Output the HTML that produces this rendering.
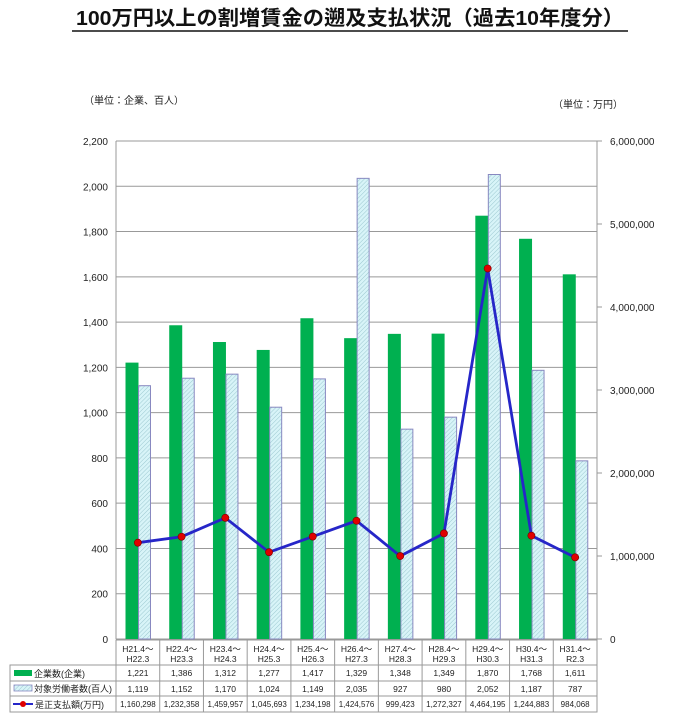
<!DOCTYPE html>
<html><head><meta charset="utf-8"><style>
body{margin:0;background:#fff;width:680px;height:716px;overflow:hidden;font-family:"Liberation Sans","Noto Sans CJK JP",sans-serif}
</style></head><body>
<svg id="s" width="680" height="716" xmlns="http://www.w3.org/2000/svg" font-family="Liberation Sans, Noto Sans CJK JP, sans-serif">
<defs><pattern id="h" width="3" height="3" patternUnits="userSpaceOnUse" patternTransform="rotate(45)"><rect width="3" height="3" fill="#d8f4f8"/><line x1="0" y1="0" x2="0" y2="3" stroke="#9cc8d0" stroke-width="1"/></pattern></defs>
<text x="350" y="25" text-anchor="middle" font-size="20.5" font-weight="bold" fill="#111" textLength="548" lengthAdjust="spacingAndGlyphs">100万円以上の割増賃金の遡及支払状況（過去10年度分）</text>
<line x1="72" y1="31" x2="628" y2="31" stroke="#111" stroke-width="1.5"/>
<text x="84" y="104" font-size="10" fill="#222">（単位：企業、百人）</text>
<text x="553" y="108" font-size="10" fill="#222">（単位：万円）</text>
<g id="g"></g>
</svg>
<script>
var g=document.getElementById('g'),o='';
var L=116,R=597,T=141,B=639,W=(R-L)/11;
var a=[1221,1386,1312,1277,1417,1329,1348,1349,1870,1768,1611];
var b=[1119,1152,1170,1024,1149,2035,927,980,2052,1187,787];
var c=[1160298,1232358,1459957,1045693,1234198,1424576,999423,1272327,4464195,1244883,984068];
var h1=["H21.4～","H22.4～","H23.4～","H24.4～","H25.4～","H26.4～","H27.4～","H28.4～","H29.4～","H30.4～","H31.4～"];
var h2=["H22.3","H23.3","H24.3","H25.3","H26.3","H27.3","H28.3","H29.3","H30.3","H31.3","R2.3"];
function f(n){return n.toLocaleString('en-US');}
for(var i=0;i<=11;i++){var y=B-(B-T)*i/11;o+='<line x1="'+L+'" y1="'+y+'" x2="'+R+'" y2="'+y+'" stroke="#999" stroke-width="1"/>';o+='<text x="108" y="'+(y+4)+'" text-anchor="end" font-size="10" fill="#222">'+f(i*200)+'</text>';}
for(var i=0;i<=6;i++){var y=B-(B-T)*i/6;o+='<line x1="'+R+'" y1="'+y+'" x2="'+(R+5)+'" y2="'+y+'" stroke="#999"/>';o+='<text x="610" y="'+(y+4)+'" font-size="10" fill="#222">'+f(i*1000000)+'</text>';}
o+='<line x1="'+L+'" y1="'+T+'" x2="'+L+'" y2="'+B+'" stroke="#999"/><line x1="'+R+'" y1="'+T+'" x2="'+R+'" y2="'+B+'" stroke="#999"/>';
var pts=[];
for(var i=0;i<11;i++){var x=L+i*W;var ya=B-a[i]/2200*(B-T),yb=B-b[i]/2200*(B-T);
o+='<rect x="'+(x+9.5)+'" y="'+ya+'" width="13" height="'+(B-ya)+'" fill="#00b050"/>';
o+='<rect x="'+(x+22.5)+'" y="'+yb+'" width="12" height="'+(B-yb)+'" fill="url(#h)" stroke="#8888c0" stroke-width="1"/>';
pts.push([x+W/2,B-c[i]/6000000*(B-T)]);}
o+='<polyline points="'+pts.map(function(p){return p.join(',')}).join(' ')+'" fill="none" stroke="#2626c8" stroke-width="2.8"/>';
pts.forEach(function(p){o+='<circle cx="'+p[0]+'" cy="'+p[1]+'" r="3.6" fill="#e00000" stroke="#700" stroke-width="0.6"/>';});
o+='<rect x="'+L+'" y="640" width="'+(R-L)+'" height="25" fill="none" stroke="#999"/>';
o+='<rect x="10" y="665" width="'+(R-10)+'" height="47" fill="none" stroke="#999"/>';
o+='<line x1="10" y1="681" x2="'+R+'" y2="681" stroke="#999"/><line x1="10" y1="696" x2="'+R+'" y2="696" stroke="#999"/>';
for(var i=0;i<=11;i++){var x=L+i*W;o+='<line x1="'+x+'" y1="640" x2="'+x+'" y2="712" stroke="#999"/>';}
for(var i=0;i<11;i++){var cx=L+i*W+W/2;
o+='<text x="'+cx+'" y="652" text-anchor="middle" font-size="8.5" fill="#222">'+h1[i]+'</text>';
o+='<text x="'+cx+'" y="662" text-anchor="middle" font-size="8.5" fill="#222">'+h2[i]+'</text>';
o+='<text x="'+cx+'" y="676" text-anchor="middle" font-size="8.5" fill="#222">'+f(a[i])+'</text>';
o+='<text x="'+cx+'" y="692" text-anchor="middle" font-size="8.5" fill="#222">'+f(b[i])+'</text>';
o+='<text x="'+cx+'" y="707" text-anchor="middle" font-size="8" fill="#222">'+f(c[i])+'</text>';}
o+='<rect x="14" y="670" width="18" height="6" fill="#00b050"/><text x="34" y="677" font-size="9" fill="#222">企業数(企業)</text>';
o+='<rect x="14" y="685" width="18" height="6" fill="url(#h)" stroke="#8888c0" stroke-width="0.8"/><text x="34" y="692" font-size="9" fill="#222">対象労働者数(百人)</text>';
o+='<line x1="13" y1="704" x2="33" y2="704" stroke="#2626c8" stroke-width="2"/><circle cx="23" cy="704" r="3" fill="#e00000"/><text x="35" y="708" font-size="9" fill="#222">是正支払額(万円)</text>';
g.innerHTML=o;
</script>
</body></html>
